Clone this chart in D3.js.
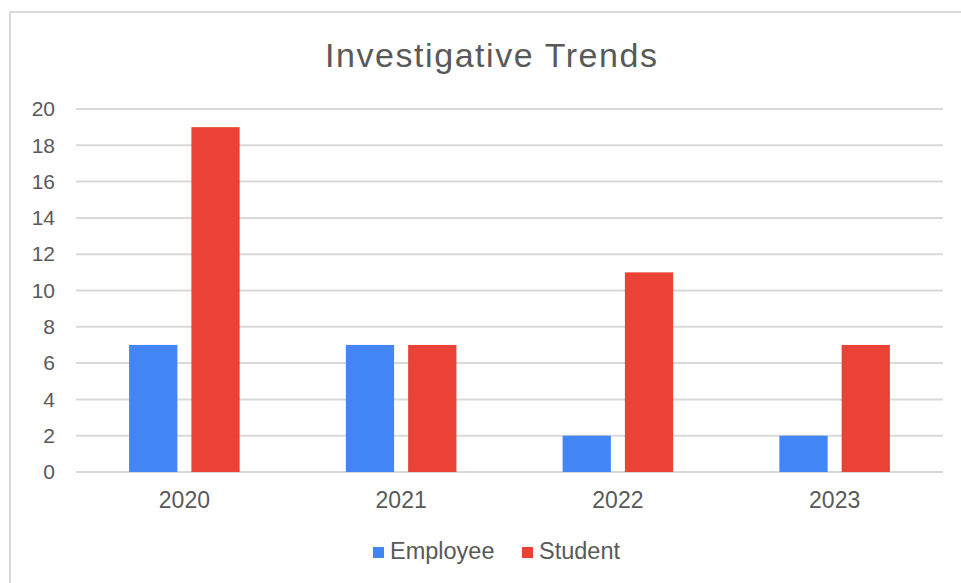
<!DOCTYPE html>
<html>
<head>
<meta charset="utf-8">
<script src="https://cdn.jsdelivr.net/npm/d3@7"></script>
<style>
  html, body { margin: 0; padding: 0; background: #ffffff; }
  svg { display: block; }
  text { font-family: "Liberation Sans", Arial, sans-serif; fill: #595959; }
</style>
</head>
<body>
<svg id="chart" width="961" height="583"></svg>
<script>
const categories = ["2020", "2021", "2022", "2023"];
const seriesNames = ["Employee", "Student"];
const employeeValues = [7, 7, 2, 2];
const studentValues = [19, 7, 11, 7];
const yTicks = [0, 2, 4, 6, 8, 10, 12, 14, 16, 18, 20];
const seriesColors = ["#4285f4", "#ea4335"];
const titleText = "Investigative Trends";

const data = categories.map((c, i) => ({ cat: c, values: [employeeValues[i], studentValues[i]] }));

const svg = d3.select("#chart");

// outer frame
svg.append("rect")
  .attr("x", 10).attr("y", 12)
  .attr("width", 1000).attr("height", 700)
  .attr("fill", "#ffffff")
  .attr("stroke", "#d9d9d9").attr("stroke-width", 2);

const plot = { left: 76, right: 943, top: 109, bottom: 472 };

const x0 = d3.scaleBand().domain(categories)
  .range([plot.left, plot.right])
  .paddingInner(0.49).paddingOuter(0.245);
const x1 = d3.scaleBand().domain(seriesNames)
  .range([0, x0.bandwidth()])
  .paddingInner(0.225).paddingOuter(0);
const y = d3.scaleLinear().domain([0, 20]).range([plot.bottom, plot.top]);
const color = d3.scaleOrdinal().domain(seriesNames).range(seriesColors);

// gridlines
svg.append("g")
  .selectAll("line").data(yTicks).join("line")
  .attr("x1", plot.left).attr("x2", plot.right)
  .attr("y1", d => y(d)).attr("y2", d => y(d))
  .attr("stroke", "#d9d9d9").attr("stroke-width", 2);

// y axis labels
const yAxis = d3.axisLeft(y).tickValues(yTicks).tickSize(0).tickPadding(0);
const gy = svg.append("g").attr("transform", `translate(55,0)`).call(yAxis);
gy.select(".domain").remove();
gy.selectAll("text")
  .attr("font-size", 21)
  .attr("fill", "#595959")
  .style("font-family", '"Liberation Sans", Arial, sans-serif');

// bars
const groups = svg.append("g").selectAll("g").data(data).join("g")
  .attr("transform", d => `translate(${x0(d.cat)},0)`);
groups.selectAll("rect")
  .data(d => d.values.map((v, i) => ({ key: seriesNames[i], value: v })))
  .join("rect")
  .attr("x", d => x1(d.key))
  .attr("y", d => y(d.value))
  .attr("width", x1.bandwidth())
  .attr("height", d => y(0) - y(d.value))
  .attr("fill", d => color(d.key));

// x axis labels
const xAxis = d3.axisBottom(x0).tickSize(0).tickPadding(0);
const gx = svg.append("g").attr("transform", `translate(0,${plot.bottom})`).call(xAxis);
gx.select(".domain").remove();
gx.selectAll("text")
  .attr("y", 36)
  .attr("dy", null)
  .attr("font-size", 23)
  .attr("fill", "#595959")
  .style("font-family", '"Liberation Sans", Arial, sans-serif');

// title
svg.append("text")
  .attr("x", 491).attr("y", 67)
  .attr("text-anchor", "middle")
  .attr("font-size", 34)
  .attr("fill", "#5f5f5f")
  .attr("textLength", 332)
  .attr("lengthAdjust", "spacing")
  .text(titleText);

// legend
const legendItems = [
  { name: seriesNames[0], x: 373 },
  { name: seriesNames[1], x: 522 }
];
const lg = svg.append("g").selectAll("g").data(legendItems).join("g")
  .attr("transform", d => `translate(${d.x},547)`);
lg.append("rect")
  .attr("width", 11).attr("height", 11)
  .attr("fill", d => color(d.name));
lg.append("text")
  .attr("x", 17).attr("y", 11.5)
  .attr("font-size", 23.5)
  .text(d => d.name);
</script>
</body>
</html>
